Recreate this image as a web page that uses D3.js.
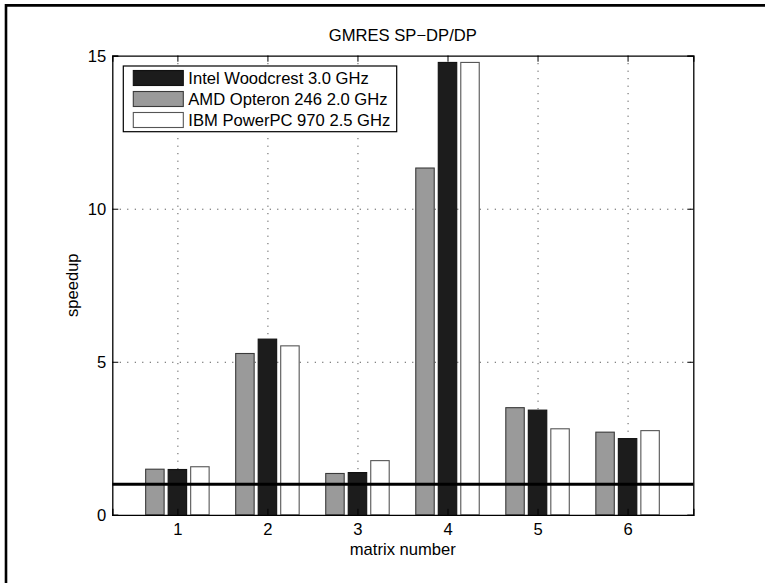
<!DOCTYPE html>
<html>
<head>
<meta charset="utf-8">
<script src="https://cdn.jsdelivr.net/npm/d3@7"></script>
<style>
  html, body { margin: 0; padding: 0; background: #fff; overflow: hidden; }
  #chart { width: 765px; height: 583px; }
  #chart svg { display: block; }
  text { font-family: "Liberation Sans", Arial, Helvetica, sans-serif; fill: #000; }
</style>
</head>
<body>
<div id="chart"></div>
<script>
// values
const matrices = [1, 2, 3, 4, 5, 6];
const seriesNames = ["AMD Opteron 246 2.0 GHz", "Intel Woodcrest 3.0 GHz", "IBM PowerPC 970 2.5 GHz"];
const amd = [1.49, 5.27, 1.35, 11.33, 3.5, 2.7];
const intel = [1.48, 5.74, 1.38, 14.78, 3.42, 2.49];
const ibm = [1.57, 5.52, 1.77, 14.78, 2.81, 2.75];
const legendOrder = ["Intel Woodcrest 3.0 GHz", "AMD Opteron 246 2.0 GHz", "IBM PowerPC 970 2.5 GHz"];
const yTicks = [0, 5, 10, 15];
const baseline = 1;

const seriesValues = [amd, intel, ibm];
const fills = { "AMD Opteron 246 2.0 GHz": "#9a9a9a", "Intel Woodcrest 3.0 GHz": "#1c1c1c", "IBM PowerPC 970 2.5 GHz": "#ffffff" };
const strokes = { "AMD Opteron 246 2.0 GHz": "#3a3a3a", "Intel Woodcrest 3.0 GHz": "#111", "IBM PowerPC 970 2.5 GHz": "#555" };

const width = 765, height = 583;
const fontSize = 16.6;
const margin = { left: 112.3, right: 765 - 693.3, top: 55.7, bottom: 583 - 514.8 };
const innerWidth = width - margin.left - margin.right;
const innerHeight = height - margin.top - margin.bottom;

const svg = d3.select("#chart").append("svg")
  .attr("width", width)
  .attr("height", height);

// figure frame: only its top and left edges fall inside the window
svg.append("path")
  .attr("d", `M6,${height}V5.4H${width}`)
  .attr("fill", "none")
  .attr("stroke", "#000")
  .attr("stroke-width", 2.6);

const g = svg.append("g").attr("transform", `translate(${margin.left},${margin.top})`);

const x = d3.scaleLinear().domain([0.277, 6.73]).range([0, innerWidth]);
const y = d3.scaleLinear().domain([0, 15]).range([innerHeight, 0]);

// dotted grid
const gridX = g.append("g").attr("class", "grid")
  .call(d3.axisBottom(x).tickValues(matrices).tickSize(innerHeight).tickFormat(""));
const gridY = g.append("g").attr("class", "grid")
  .call(d3.axisLeft(y).tickValues([5, 10]).tickSize(-innerWidth).tickFormat(""));
[gridX, gridY].forEach(s => {
  s.select(".domain").remove();
  s.selectAll("text").remove();
  s.selectAll("line")
    .attr("stroke", "#333")
    .attr("stroke-width", 1)
    .attr("stroke-dasharray", "1,6.5");
});

// bars
const barW = 0.205, offsets = [-0.25, 0, 0.25];
seriesNames.forEach((name, si) => {
  g.append("g").selectAll("rect")
    .data(seriesValues[si])
    .join("rect")
    .attr("x", (d, i) => x(matrices[i] + offsets[si] - barW / 2))
    .attr("width", x(barW) - x(0))
    .attr("y", d => y(d))
    .attr("height", d => y(0) - y(d))
    .attr("fill", fills[name])
    .attr("stroke", strokes[name])
    .attr("stroke-width", 1.1);
});

// speedup = 1 reference line
g.append("line")
  .attr("x1", 0).attr("x2", innerWidth)
  .attr("y1", y(baseline)).attr("y2", y(baseline))
  .attr("stroke", "#000")
  .attr("stroke-width", 3);

// axes with inward ticks on all four sides
const tickLen = 6;
const axB = g.append("g").attr("transform", `translate(0,${innerHeight})`)
  .call(d3.axisBottom(x).tickValues(matrices).tickFormat(d3.format("d")).tickSize(-tickLen).tickPadding(8.5));
const axT = g.append("g")
  .call(d3.axisTop(x).tickValues(matrices).tickSize(-tickLen));
const axL = g.append("g")
  .call(d3.axisLeft(y).tickValues(yTicks).tickFormat(d3.format("d")).tickSize(-tickLen).tickPadding(6));
const axR = g.append("g").attr("transform", `translate(${innerWidth},0)`)
  .call(d3.axisRight(y).tickValues(yTicks).tickSize(-tickLen));
axT.selectAll("text").remove();
axR.selectAll("text").remove();
axB.selectAll("text").attr("text-anchor", "middle");
axL.selectAll("text").attr("text-anchor", "end");
[axB, axT, axL, axR].forEach(a => {
  a.select(".domain").attr("stroke", "#000").attr("stroke-width", 1.3);
  a.selectAll(".tick line").attr("stroke", "#000").attr("stroke-width", 1);
  a.selectAll("text").attr("font-size", fontSize).attr("fill", "#000")
    .attr("font-family", "Liberation Sans, Arial, sans-serif");
});

// legend
const leg = g.append("g").attr("transform", `translate(${123.3 - margin.left},${66 - margin.top})`);
leg.append("rect")
  .attr("width", 273.4).attr("height", 65.7)
  .attr("fill", "#fff")
  .attr("stroke", "#000")
  .attr("stroke-width", 1.2);
legendOrder.forEach((name, i) => {
  const row = leg.append("g").attr("transform", `translate(0,${12 + i * 21})`);
  row.append("rect")
    .attr("x", 10).attr("y", -7.5)
    .attr("width", 50).attr("height", 15)
    .attr("fill", fills[name])
    .attr("stroke", strokes[name])
    .attr("stroke-width", 1.1);
  row.append("text")
    .attr("x", 65).attr("y", 0).attr("dy", "0.35em")
    .attr("font-size", fontSize)
    .text(name);
});

// title and labels
g.append("text")
  .attr("x", innerWidth / 2).attr("y", 41 - margin.top)
  .attr("text-anchor", "middle")
  .attr("font-size", fontSize)
  .text("GMRES SP\u2212DP/DP");

g.append("text")
  .attr("x", innerWidth / 2).attr("y", 555 - margin.top)
  .attr("text-anchor", "middle")
  .attr("font-size", fontSize)
  .text("matrix number");

g.append("text")
  .attr("transform", `translate(${78 - margin.left},${innerHeight / 2}) rotate(-90)`)
  .attr("text-anchor", "middle")
  .attr("font-size", fontSize)
  .text("speedup");
</script>
</body>
</html>
